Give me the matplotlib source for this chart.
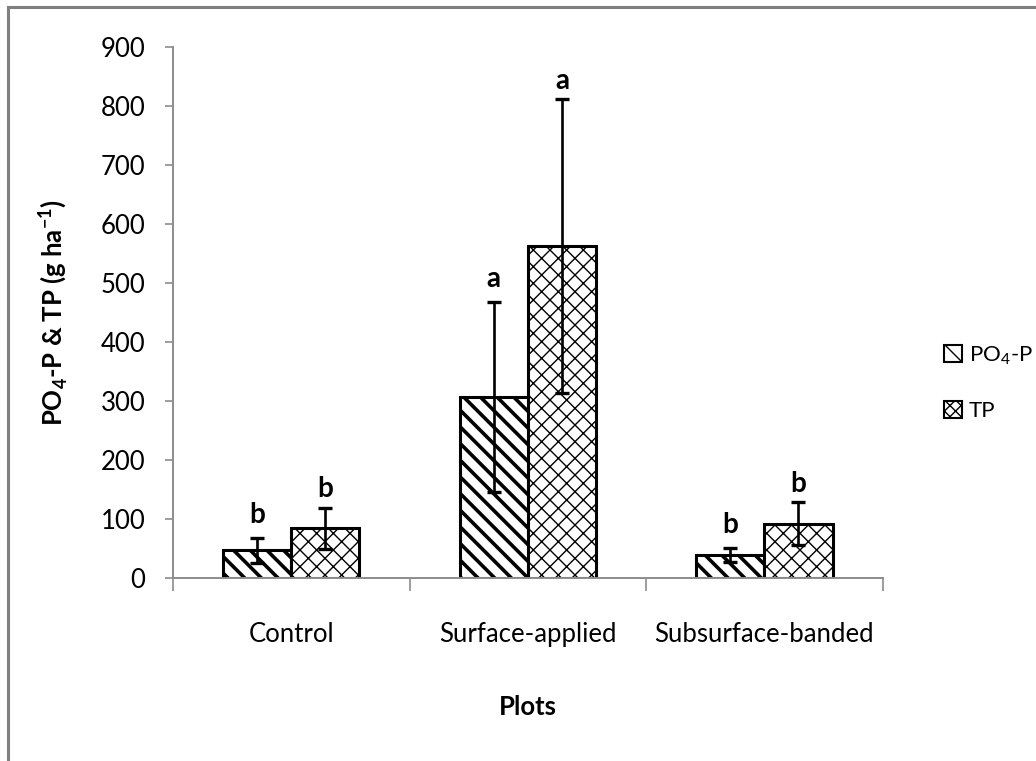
import numpy as np
import matplotlib
matplotlib.use('Agg')
import matplotlib.pyplot as plt
from matplotlib.patches import Patch

# ── DATA ─────────────────────────────────────────────────────────────────────
plots     = ['Control', 'Surface-applied', 'Subsurface-banded']
po4_mean  = [47, 307, 39]
po4_err   = [21, 161, 12]
tp_mean   = [84, 563, 92]
tp_err    = [35, 249, 36]
po4_lett  = ['b', 'a', 'b']
tp_lett   = ['b', 'a', 'b']
yticks    = [0, 100, 200, 300, 400, 500, 600, 700, 800, 900]

plt.rcParams['font.family'] = ['Lato', 'DejaVu Sans']
plt.rcParams['mathtext.fontset'] = 'custom'
plt.rcParams['mathtext.rm'] = 'Lato'
plt.rcParams['mathtext.bf'] = 'Lato:bold'

fig = plt.figure(figsize=(10.36, 7.61), dpi=100)
ax = fig.add_axes([0.167, 0.2405, 0.685, 0.6975])

x = np.arange(len(plots))
w = 0.288
grey = '#8c8c8c'
fs = 18.5

with plt.rc_context({'hatch.linewidth': 2.6}):
    ax.bar(x - w / 2, po4_mean, w, color='white', edgecolor='black',
           linewidth=2.2, hatch='\\\\', zorder=2)
with plt.rc_context({'hatch.linewidth': 1.0}):
    ax.bar(x + w / 2, tp_mean, w, color='white', edgecolor='black',
           linewidth=2.2, hatch='xx', zorder=2)

ax.errorbar(x - w / 2, po4_mean, yerr=po4_err, fmt='none', ecolor='black',
            elinewidth=1.9, capsize=5, capthick=2.4, zorder=3)
ax.errorbar(x + w / 2, tp_mean, yerr=tp_err, fmt='none', ecolor='black',
            elinewidth=1.9, capsize=5, capthick=2.4, zorder=3)

# significance letters
for xi, m, e, t in zip(x - w / 2, po4_mean, po4_err, po4_lett):
    ax.annotate(t, (xi, m + e), xytext=(0, 7), textcoords='offset points',
                ha='center', va='bottom', fontsize=20, fontweight='bold')
for xi, m, e, t in zip(x + w / 2, tp_mean, tp_err, tp_lett):
    ax.annotate(t, (xi, m + e), xytext=(0, 4), textcoords='offset points',
                ha='center', va='bottom', fontsize=20, fontweight='bold')

ax.set_xlim(-0.5, 2.5)
ax.set_ylim(0, 900)
ax.set_yticks(yticks)
ax.tick_params(axis='y', labelsize=fs, length=6, color=grey, width=1.2, pad=14)

# category ticks at the boundaries, labels in the middle
ax.set_xticks([-0.5, 0.5, 1.5, 2.5])
ax.set_xticklabels([])
ax.set_xticks(x, minor=True)
ax.set_xticklabels(plots, minor=True)
ax.tick_params(axis='x', which='major', length=9, color=grey, width=1.2)
ax.tick_params(axis='x', which='minor', length=0, labelsize=fs, pad=32)

for s in ['top', 'right']:
    ax.spines[s].set_visible(False)
for s in ['left', 'bottom']:
    ax.spines[s].set_color(grey)
    ax.spines[s].set_linewidth(1.4)

ax.set_ylabel(r'PO$_\mathbf{4}$-P & TP (g ha$^{\mathbf{-1}}$)',
              fontsize=fs, fontweight='bold', labelpad=22)
ax.set_xlabel('Plots', fontsize=fs, fontweight='bold', labelpad=34)

# legend
with plt.rc_context({'hatch.linewidth': 2.2}):
    h1 = Patch(facecolor='white', edgecolor='black', hatch='\\\\', linewidth=1.5)
with plt.rc_context({'hatch.linewidth': 1.0}):
    h2 = Patch(facecolor='white', edgecolor='black', hatch='xxx', linewidth=1.5)
fig.legend([h1, h2], ['PO$_4$-P', 'TP'], loc='center left',
           bbox_to_anchor=(0.903, 0.497), frameon=False, fontsize=16,
           handlelength=0.8, handleheight=0.8, handletextpad=0.3,
           labelspacing=1.5, borderaxespad=0)

# outer chart frame (only top and left visible in the crop)
fig.add_artist(plt.Line2D([0.0075, 1.0], [0.9905, 0.9905], color='#808080',
                          lw=2.2, transform=fig.transFigure))
fig.add_artist(plt.Line2D([0.0075, 0.0075], [0.0, 0.9905], color='#808080',
                          lw=2.2, transform=fig.transFigure))

fig.savefig('out.png', dpi=100)
